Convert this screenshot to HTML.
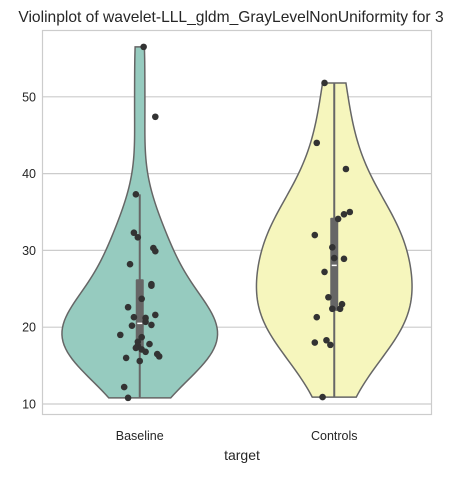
<!DOCTYPE html>
<html><head><meta charset="utf-8">
<style>
body{margin:0;background:#fff;}
svg text{font-family:"Liberation Sans","DejaVu Sans",sans-serif;fill:#262626;}
</style></head>
<body>
<svg id="chart" width="474" height="473">
<text x="231" y="22" font-size="15.6" text-anchor="middle">Violinplot of wavelet-LLL_gldm_GrayLevelNonUniformity for 3</text>
<text x="242" y="460" font-size="14" text-anchor="middle">target</text>
<g id="grid"></g><g id="violins"></g><g id="pts"></g>
<rect x="42.5" y="30.5" width="389" height="384" fill="none" stroke="#cccccc" stroke-width="1.2"/>
</svg>
<script>
const categories = ["Baseline","Controls"];
const baselineValues = [56.5,47.4,37.3,32.3,31.7,30.3,29.9,28.2,25.6,25.4,23.7,22.6,21.3,21.2,20.7,21.6,20.2,20.3,19.0,18.7,18.1,17.6,17.8,17.3,17.1,16.8,16.5,16.2,16.0,15.6,12.2,10.8];
const baselineJitter = [0.02,0.08,-0.02,-0.03,-0.01,0.07,0.08,-0.05,0.06,0.06,0.01,-0.06,-0.03,0.03,0.03,0.08,-0.04,0.06,-0.1,0.01,-0.01,-0.01,0.05,-0.02,0.01,0.03,0.09,0.1,-0.07,0.0,-0.08,-0.06];
const controlsValues = [51.8,44.0,40.6,35.0,34.7,34.1,32.0,30.4,29.0,28.9,27.2,23.9,23.0,22.4,22.4,21.3,18.0,18.3,17.7,10.9];
const controlsJitter = [-0.05,-0.09,0.06,0.08,0.05,0.02,-0.1,-0.01,0.0,0.05,-0.05,-0.03,0.04,0.03,-0.01,-0.09,-0.1,-0.04,-0.02,-0.06];
const yTicks = [10,20,30,40,50];
const fills = ["#96cbbf","#f6f6bd"];

const NS="http://www.w3.org/2000/svg";
const L=42.5,R=431.5,band=(R-L)/categories.length;
const xC=i=>L+band*(i+0.5);
const y=v=>404-(v-10)*7.68;
function mk(t,a,p){const e=document.createElementNS(NS,t);for(const k in a)e.setAttribute(k,a[k]);p.appendChild(e);return e;}
const grid=document.getElementById('grid');
yTicks.forEach(t=>{
  const l=mk('line',{x1:L,x2:R,y1:y(t),y2:y(t),stroke:'#cccccc','stroke-width':1.2},grid);
  
  
  const tx=mk('text',{x:36,y:y(t)+4.5,'font-size':12.5,'text-anchor':'end'},grid);tx.textContent=t;
  
  
});
categories.forEach((c,i)=>{
  const tx=mk('text',{x:xC(i),y:440,'font-size':12.5,'text-anchor':'middle'},grid);tx.textContent=c;
  
  
});
function q(s,p){const pos=(s.length-1)*p,lo=Math.floor(pos),hi=Math.ceil(pos);return s[lo]+(s[hi]-s[lo])*(pos-lo);}
const vg=document.getElementById('violins'),pg=document.getElementById('pts');
[[baselineValues,baselineJitter],[controlsValues,controlsJitter]].forEach(([vals,jit],i)=>{
  const n=vals.length,m=vals.reduce((a,b)=>a+b)/n;
  const sd=Math.sqrt(vals.reduce((a,b)=>a+(b-m)*(b-m),0)/(n-1));
  const bw=sd*Math.pow(n,-0.2);
  const mn=Math.min(...vals),mx=Math.max(...vals);
  const N=100,ds=[],vs=[];
  for(let k=0;k<=N;k++){const v=mn+(mx-mn)*k/N;vs.push(v);ds.push(vals.reduce((a,b)=>a+Math.exp(-0.5*((v-b)/bw)**2),0));}
  const dmax=Math.max(...ds),hw=band*0.4;
  const cx=xC(i);
  let d='';vs.forEach((v,k)=>{d+=(k?'L':'M')+(cx+ds[k]/dmax*hw)+','+y(v);});
  for(let k=N;k>=0;k--)d+='L'+(cx-ds[k]/dmax*hw)+','+y(vs[k]);
  const p=mk('path',{d:d+'Z',fill:fills[i],stroke:'#666','stroke-width':1.5},vg);
  
  
  const s=[...vals].sort((a,b)=>a-b);
  const q1=q(s,0.25),q3=q(s,0.75),md=q(s,0.5),iqr=q3-q1;
  const wl=s.find(v=>v>=q1-1.5*iqr),wh=[...s].reverse().find(v=>v<=q3+1.5*iqr);
  const w=mk('line',{x1:cx,x2:cx,y1:y(wl),y2:y(wh),stroke:'#666','stroke-width':2},vg);
  
  
  const b=mk('rect',{x:cx-4,y:y(q3),width:8,height:y(q1)-y(q3),fill:'#666',rx:1},vg);
  
  
  const me=mk('line',{x1:cx-2.5,x2:cx+2.5,y1:y(md),y2:y(md),stroke:'#fff','stroke-width':1.5},vg);
  
  
  vals.forEach((v,k)=>{
    const c=mk('circle',{cx:cx+jit[k]*band,cy:y(v),r:3.3,fill:'#333'},pg);
    
    
  });
});
</script>
</body></html>
